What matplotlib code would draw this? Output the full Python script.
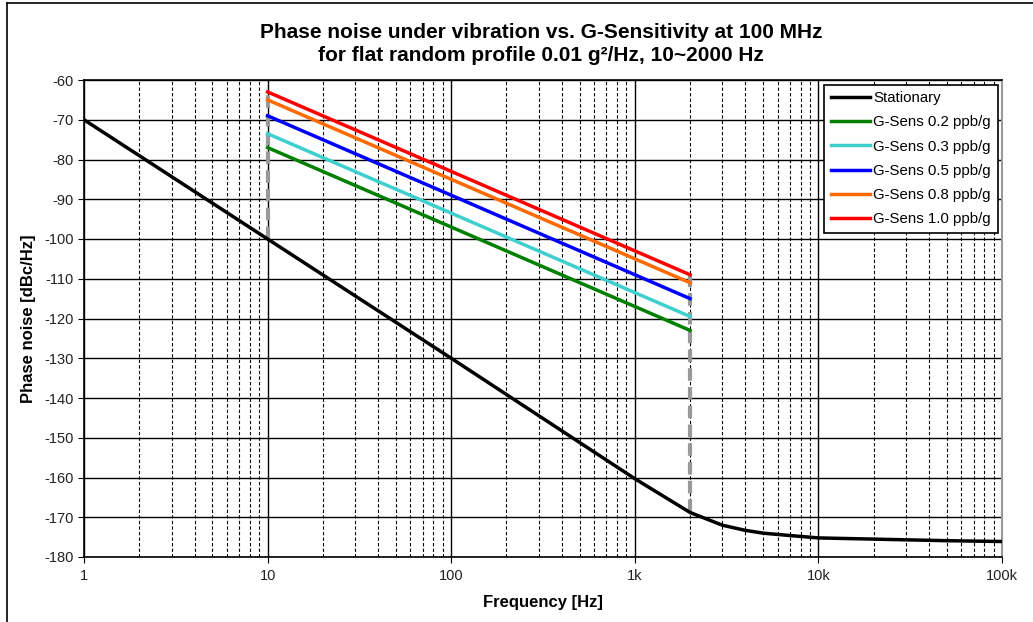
import matplotlib
matplotlib.use("Agg")
import matplotlib.pyplot as plt
from matplotlib.ticker import FixedLocator, FixedFormatter, LogLocator, NullFormatter
from matplotlib.lines import Line2D

plt.rcParams['font.family'] = ['Liberation Sans', 'DejaVu Sans']

# Stationary phase noise
stat_f = [1, 10, 100, 1000, 2000, 3000, 4000, 5000, 7000, 10000, 20000, 50000, 100000]
stat_L = [-70, -100, -130, -160.3, -168.8, -172.0, -173.3, -174.0, -174.6, -175.2, -175.5, -175.9, -176.1]

# G-sensitivity lines: endpoints at 10 Hz and 2000 Hz
gs_f = [10, 2000]
gs_names = ["G-Sens 0.2 ppb/g", "G-Sens 0.3 ppb/g", "G-Sens 0.5 ppb/g",
            "G-Sens 0.8 ppb/g", "G-Sens 1.0 ppb/g"]
gs_L = [[-77.0, -123.0],
        [-73.5, -119.5],
        [-69.0, -115.0],
        [-65.0, -111.0],
        [-63.0, -109.0]]
gs_colors = ["#008000", "#3fcfcf", "#0000ff", "#ff6a00", "#ff0000"]

xticks = [1, 10, 100, 1000, 10000, 100000]
xticklabels = ["1", "10", "100", "1k", "10k", "100k"]
yticks = list(range(-180, -59, 10))

fig = plt.figure(figsize=(10.33, 6.22), dpi=100)
ax = fig.add_axes([84/1033, 1 - 557/622, (1002-84)/1033, (557-80)/622])

# figure border lines (left, top)
fig.add_artist(Line2D([7/1033, 7/1033], [0, 1 - 3/622], transform=fig.transFigure, color='black', lw=1.2))
fig.add_artist(Line2D([7/1033, 1], [1 - 3/622, 1 - 3/622], transform=fig.transFigure, color='black', lw=1.2))

ax.set_xscale('log')
ax.set_xlim(1, 100000)
ax.set_ylim(-180, -60)

# dashed verticals at band edges
ax.plot([gs_f[0], gs_f[0]], [stat_L[1], gs_L[4][0]], color='#999999', lw=3, ls=(0, (3, 1.5)), zorder=3)
ax.plot([gs_f[1], gs_f[1]], [stat_L[4], gs_L[4][1]], color='#999999', lw=3, ls=(0, (3, 1.5)), zorder=3)

ax.plot(stat_f, stat_L, color='black', lw=2.5, label='Stationary', zorder=4)
for name, L, c in zip(gs_names, gs_L, gs_colors):
    ax.plot(gs_f, L, color=c, lw=2.5, label=name, zorder=4)

ax.xaxis.set_major_locator(FixedLocator(xticks))
ax.xaxis.set_major_formatter(FixedFormatter(xticklabels))
ax.xaxis.set_minor_locator(LogLocator(base=10, subs=range(2, 10)))
ax.xaxis.set_minor_formatter(NullFormatter())
ax.set_yticks(yticks)
ax.set_yticklabels([str(v) for v in yticks])

ax.grid(True, which='major', color='black', lw=1.0)
ax.grid(True, which='minor', axis='x', color='black', lw=0.8, ls=(0, (3, 2)))
ax.set_axisbelow(True)
ax.tick_params(axis='both', which='major', labelsize=10.5, length=4, color='black', colors='#222222')
ax.tick_params(axis='x', which='minor', length=0)
ax.tick_params(axis='x', which='major', pad=5)

for s in ['left', 'bottom', 'top']:
    ax.spines[s].set_color('black')
    ax.spines[s].set_linewidth(1.2)
ax.spines['right'].set_color('#999999')
ax.spines['right'].set_linewidth(1.5)

ax.set_xlabel('Frequency [Hz]', fontsize=12, fontweight='bold', labelpad=8)
ax.set_ylabel('Phase noise [dBc/Hz]', fontsize=12, fontweight='bold', labelpad=6)
fig.text(541/1033, 1 - 44/622, 'Phase noise under vibration vs. G-Sensitivity at 100 MHz\nfor flat random profile 0.01 g\u00b2/Hz, 10~2000 Hz',
         ha='center', va='center', fontsize=15, fontweight='bold', linespacing=1.22)

leg = ax.legend(loc='upper right', fontsize=10.8, frameon=True, fancybox=False,
                edgecolor='black', framealpha=1, handlelength=2.6, handletextpad=0.2,
                borderaxespad=0.3, labelspacing=0.68, borderpad=0.45)
leg.get_frame().set_linewidth(1.2)

fig.savefig('out.png', dpi=100)
